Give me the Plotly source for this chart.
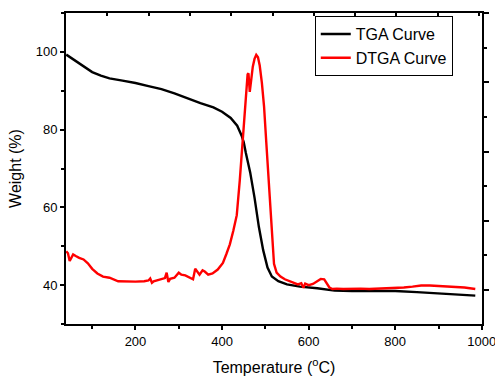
import plotly.graph_objects as go

# TGA curve (weight %)
tga_temp = [40, 60, 80, 100, 120, 140, 170, 200, 230, 260, 290, 320, 350, 380, 400,
            420, 435, 445, 450, 455, 465, 475, 485, 495, 505, 515, 530, 550, 580, 620,
            660, 700, 750, 800, 850, 900, 950, 985]
tga_weight = [99.3, 97.8, 96.2, 94.8, 93.9, 93.2, 92.6, 92.0, 91.2, 90.4, 89.3, 88.0, 86.8, 85.7, 84.6,
              83.0, 81.0, 78.5, 76.8, 74.0, 69.0, 62.5, 55.0, 49.0, 44.5, 42.2, 41.0, 40.2, 39.6, 39.2,
              38.6, 38.5, 38.5, 38.5, 38.2, 37.8, 37.5, 37.3]

# DTGA curve (drawn in the same axis units)
dtga_temp = [40, 44, 48, 52, 56, 62, 70, 80, 90, 100,
             112, 125, 140, 160, 180, 200, 220, 230, 234, 238,
             242, 250, 260, 268, 272, 276, 280, 290, 300, 306,
             315, 325, 333, 338, 342, 348, 355, 360, 368, 378,
             390, 402, 410, 418, 426, 434, 441, 446, 451, 456,
             459, 461, 464, 467, 471, 475, 479, 483, 487, 492,
             497, 502, 507, 512, 516, 520, 526, 535, 545, 555,
             565, 575, 583, 588, 592, 600, 610, 620, 628, 636,
             642, 648, 655, 665, 680, 700, 720, 740, 760, 780,
             800, 820, 840, 860, 880, 900, 920, 940, 960, 985]
dtga_value = [48.7, 48.2, 46.2, 47.2, 47.9, 47.5, 47.0, 46.6, 45.6, 44.2,
              43.0, 42.2, 41.9, 41.0, 40.9, 40.9, 41.0, 41.2, 41.7, 40.6,
              41.0, 41.2, 41.5, 41.8, 43.2, 40.8, 41.6, 41.9, 43.2, 42.7,
              42.5, 42.0, 41.5, 44.2, 43.5, 42.7, 43.8, 43.5, 42.7, 43.0,
              44.0, 45.7, 48.0, 50.5, 54.0, 58.0, 67.0, 75.0, 84.0, 90.5,
              94.2, 94.5, 89.7, 92.5, 96.2, 98.2, 99.2, 98.6, 96.5, 92.0,
              86.0, 77.0, 68.0, 58.0, 50.0, 45.5, 43.2, 42.2, 41.5, 41.0,
              40.5, 40.2, 40.5, 39.3, 40.4, 40.0, 40.3, 41.0, 41.6, 41.5,
              40.5, 39.4, 39.0, 39.1, 39.0, 39.1, 39.1, 39.0, 39.1, 39.2,
              39.2, 39.4, 39.6, 39.9, 39.9, 39.8, 39.7, 39.6, 39.4, 39.0]

FONT = "Liberation Sans, Arial, sans-serif"

fig = go.Figure()
fig.add_trace(go.Scatter(x=tga_temp, y=tga_weight, mode="lines", name="TGA Curve",
                         line=dict(color="black", width=2.4)))
fig.add_trace(go.Scatter(x=dtga_temp, y=dtga_value, mode="lines", name="DTGA Curve",
                         line=dict(color="#ff0000", width=2.4)))
# empty trace so the secondary (top / right) frame axes get drawn
fig.add_trace(go.Scatter(x=[], y=[], xaxis="x2", yaxis="y2", showlegend=False,
                         hoverinfo="skip", mode="lines"))

fig.update_layout(
    width=495, height=376,
    margin=dict(l=66, r=13, t=13, b=52),
    paper_bgcolor="white", plot_bgcolor="white",
    font=dict(family=FONT, size=13, color="black"),
    showlegend=True,
    legend=dict(x=0.598, y=0.99, xanchor="left", yanchor="top",
                bgcolor="white", bordercolor="black", borderwidth=1,
                font=dict(size=16, family=FONT, color="black"),
                tracegroupgap=0),
    xaxis=dict(range=[39.5, 1000.5], tickmode="linear", tick0=0, dtick=200, automargin=False,
               ticklabeloverflow="allow",
               ticks="outside", ticklen=4, tickwidth=1.5, tickcolor="black",
               minor=dict(ticks="outside", ticklen=3, tickwidth=1.5, dtick=100, tick0=0, tickcolor="black"),
               showline=True, linewidth=2, linecolor="black",
               showgrid=False, zeroline=False,
               title=dict(text="Temperature (<sup>o</sup>C)", font=dict(size=16), standoff=18)),
    yaxis=dict(range=[30, 110], tickmode="linear", tick0=0, dtick=20, automargin=False,
               ticks="outside", ticklen=4, tickwidth=1.5, tickcolor="black",
               minor=dict(ticks="outside", ticklen=3, tickwidth=1.5, dtick=10, tick0=0, tickcolor="black"),
               showline=True, linewidth=2, linecolor="black",
               showgrid=False, zeroline=False,
               title=dict(text="Weight (%)", font=dict(size=16), standoff=10)),
    xaxis2=dict(overlaying="x", side="top", range=[0, 10.07], tickmode="linear", tick0=0, dtick=1,
                automargin=False,
                ticks="inside", ticklen=3, tickwidth=1.5, tickcolor="black",
                showticklabels=False, showline=True, linewidth=2, linecolor="black",
                showgrid=False, zeroline=False),
    yaxis2=dict(overlaying="y", side="right", range=[-0.49, 4.0], tickmode="linear", tick0=0, dtick=1,
                automargin=False,
                ticks="outside", ticklen=5, tickwidth=1.5, tickcolor="black",
                minor=dict(ticks="outside", ticklen=3, tickwidth=1.5, dtick=0.5, tick0=0, tickcolor="black"),
                showticklabels=False, showline=True, linewidth=2, linecolor="black",
                showgrid=False, zeroline=False),
)

fig.write_html("out.html")
